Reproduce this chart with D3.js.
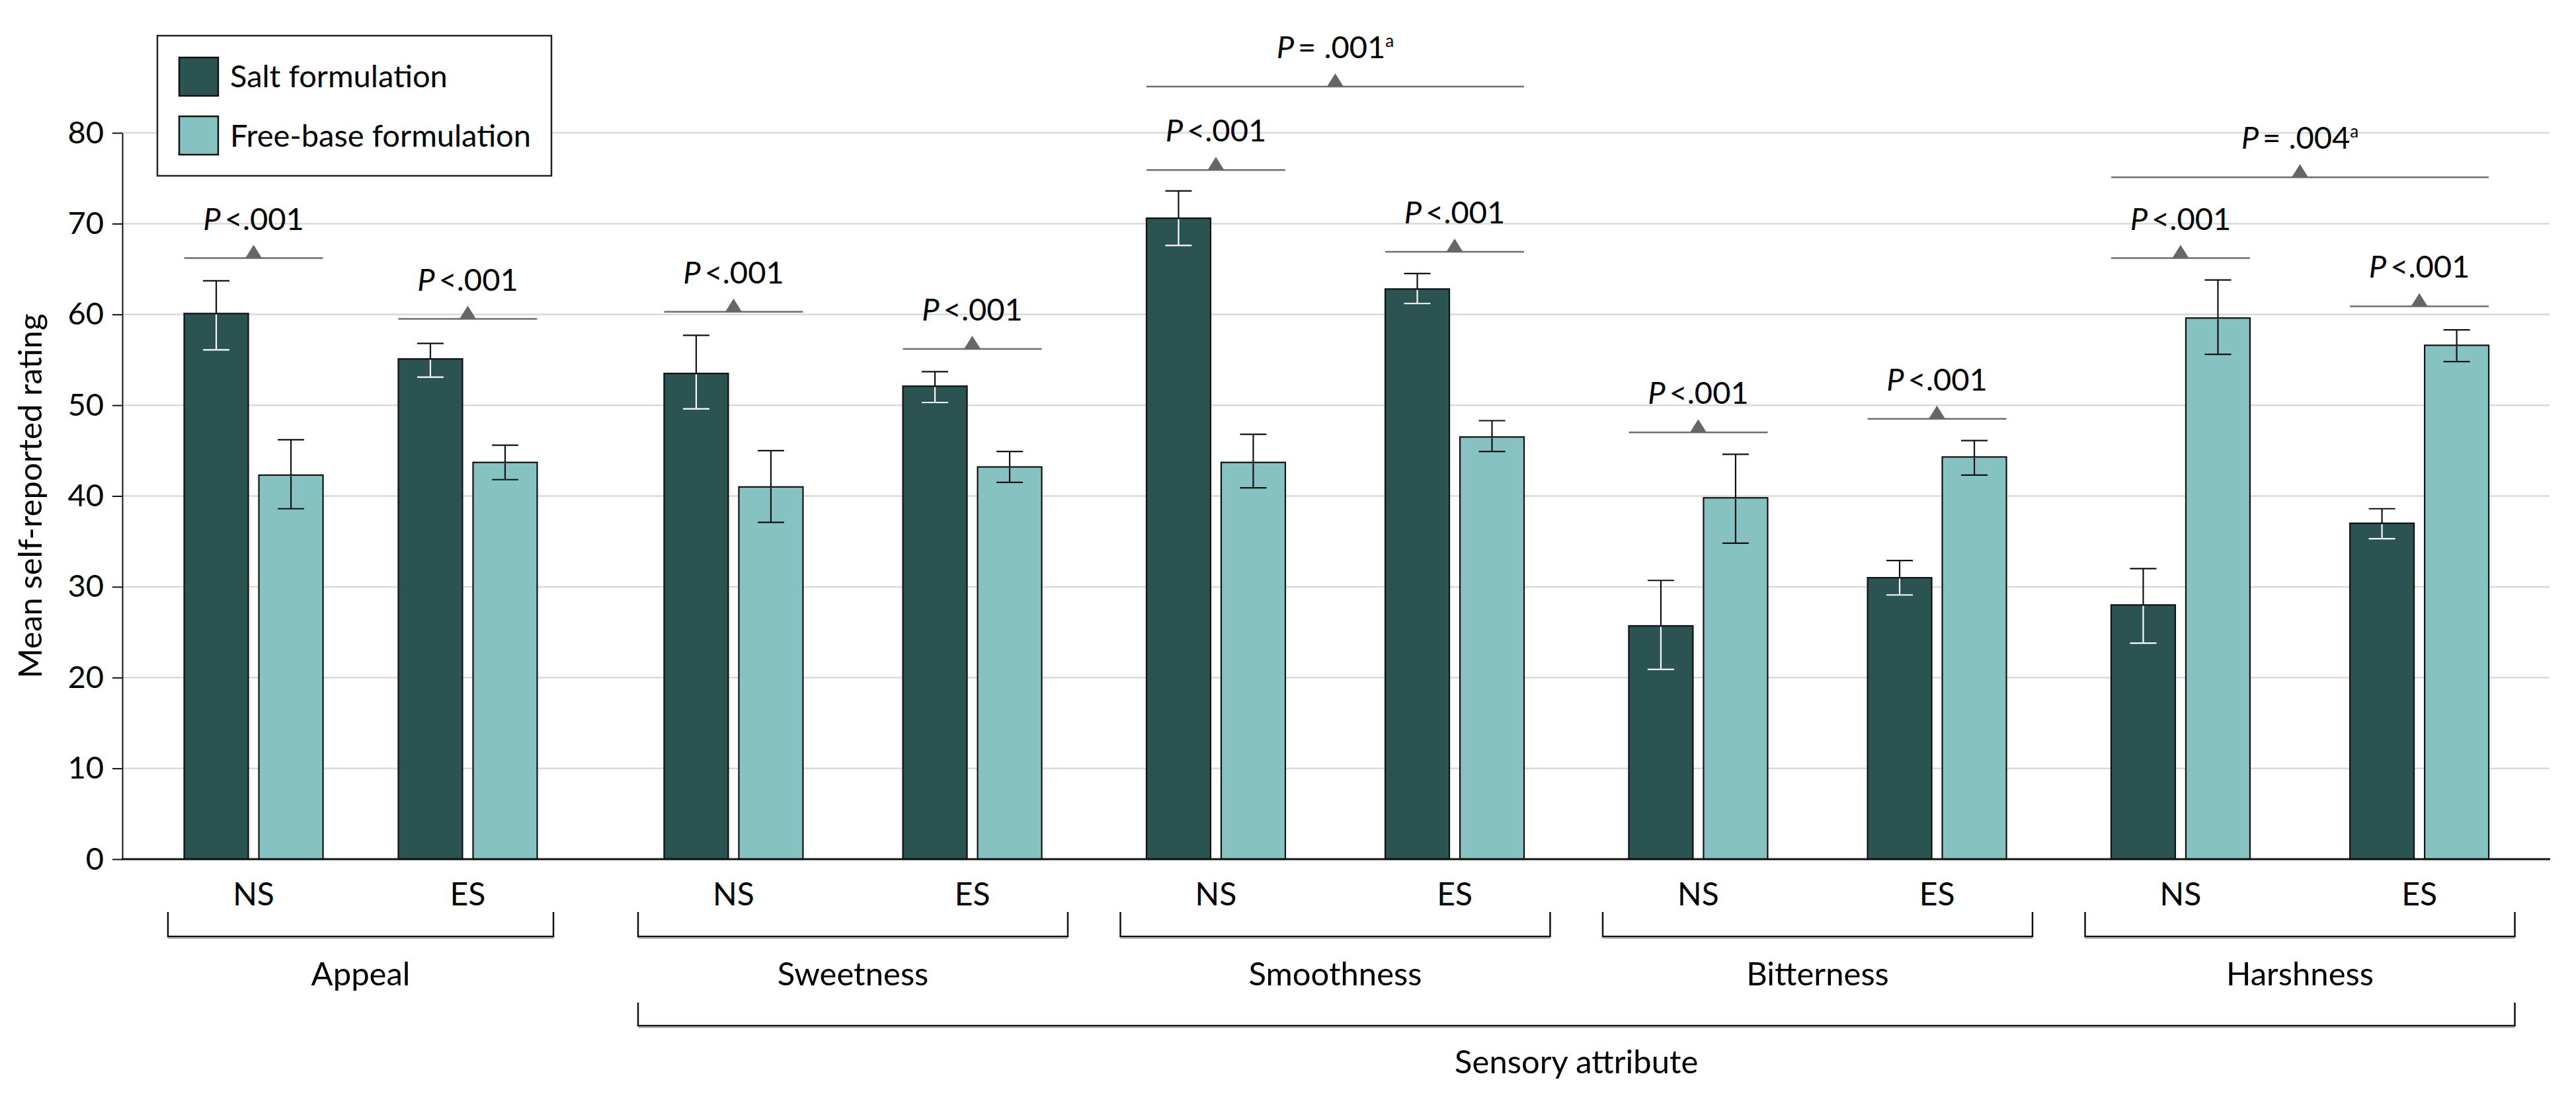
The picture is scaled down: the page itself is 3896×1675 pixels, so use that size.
<!DOCTYPE html>
<html>
<head>
<meta charset="utf-8">
<script src="https://cdn.jsdelivr.net/npm/d3@7/dist/d3.min.js"></script>
<style>
  html, body { margin: 0; padding: 0; background: #fff; }
  svg { display: block; font-family: Lato, "Open Sans", sans-serif; }
</style>
</head>
<body>
<svg id="chart" width="3896" height="1675"></svg>
<script>
// ---------------- DATA ----------------
const attributes = ["Appeal", "Sweetness", "Smoothness", "Bitterness", "Harshness"];
const settings = ["NS", "ES"];
const formulations = ["Salt formulation", "Free-base formulation"];
const yTicks = [0, 10, 20, 30, 40, 50, 60, 70, 80];

// order: Appeal NS, Appeal ES, Sweetness NS, Sweetness ES, ... Harshness ES
const saltMean = [60.1, 55.1, 53.5, 52.1, 70.6, 62.8, 25.7, 31.0, 28.0, 37.0];
const saltLow  = [56.1, 53.1, 49.6, 50.3, 67.6, 61.2, 20.9, 29.1, 23.8, 35.3];
const saltHigh = [63.7, 56.8, 57.7, 53.7, 73.6, 64.5, 30.7, 32.9, 32.0, 38.6];
const freeMean = [42.3, 43.7, 41.0, 43.2, 43.7, 46.5, 39.8, 44.3, 59.6, 56.6];
const freeLow  = [38.6, 41.8, 37.1, 41.5, 40.9, 44.9, 34.8, 42.3, 55.6, 54.8];
const freeHigh = [46.2, 45.6, 45.0, 44.9, 46.8, 48.3, 44.6, 46.1, 63.8, 58.3];

// pairwise comparisons (salt vs free-base within each attribute × setting)
const pairP     = ["<.001", "<.001", "<.001", "<.001", "<.001", "<.001", "<.001", "<.001", "<.001", "<.001"];
const pairLineY = [66.2, 59.5, 60.3, 56.2, 75.9, 66.9, 47.0, 48.5, 66.2, 60.9];

// NS vs ES comparisons across an attribute
const overallAttr  = ["Smoothness", "Harshness"];
const overallP     = ["= .001", "= .004"];
const overallNote  = ["a", "a"];
const overallLineY = [85.1, 75.1];

const yLabel = "Mean self-reported rating";
const xLabel = "Sensory attribute";

// ---------------- LAYOUT ----------------
const colors = { "Salt formulation": "#2a5352", "Free-base formulation": "#86c2c1" };
const svg = d3.select("#chart");
const plotLeft = 185, plotRight = 3857;

const y = d3.scaleLinear().domain([0, 80]).range([1300, 201]);

const attrX = d3.scaleBand().domain(attributes).range([235.5, 3803.5]).paddingInner(0.109);
function attrSpan(a) {
  const x0 = attrX(a);
  if (a === "Appeal") return [x0 + 18.5, x0 + 601.5];
  return [x0, x0 + attrX.bandwidth()];
}
function settingScale(a) {
  return d3.scalePoint().domain(settings).range(attrSpan(a)).padding(0.4);
}
const formX = d3.scaleBand().domain(formulations).range([-105, 105]).paddingInner(0.1416);

// build groups
const groups = [];
attributes.forEach((a, ai) => {
  settings.forEach((s, si) => {
    const i = ai * settings.length + si;
    groups.push({
      attr: a, setting: s, i,
      cx: settingScale(a)(s),
      bars: [
        { f: formulations[0], mean: saltMean[i], lo: saltLow[i], hi: saltHigh[i] },
        { f: formulations[1], mean: freeMean[i], lo: freeLow[i], hi: freeHigh[i] }
      ]
    });
  });
});

// ---------------- GRID ----------------
svg.append("g").selectAll("line")
  .data(yTicks.filter(d => d > 0))
  .join("line")
  .attr("x1", plotLeft).attr("x2", 3856)
  .attr("y1", d => y(d)).attr("y2", d => y(d))
  .attr("stroke", "#dadada").attr("stroke-width", 2.5);

// ---------------- LEGEND ----------------
const lg = svg.append("g");
lg.append("rect").attr("x", 238).attr("y", 54).attr("width", 596).attr("height", 212)
  .attr("fill", "#fff").attr("stroke", "#222").attr("stroke-width", 2.5);
formulations.forEach((f, k) => {
  lg.append("rect").attr("x", 271).attr("y", 87 + k * 89).attr("width", 59).attr("height", 58)
    .attr("fill", colors[f]).attr("stroke", "#111").attr("stroke-width", 2.5);
  lg.append("text").attr("x", 348).attr("y", 132 + k * 90)
    .attr("font-size", 47).attr("fill", "#000").text(f);
});

// ---------------- BARS ----------------
const gBars = svg.append("g");
groups.forEach(g => {
  g.bars.forEach((b, k) => {
    const x0 = g.cx + formX(b.f);
    const bw = formX.bandwidth();
    gBars.append("rect")
      .attr("x", x0).attr("y", y(b.mean))
      .attr("width", bw).attr("height", y(0) - y(b.mean))
      .attr("fill", colors[b.f]).attr("stroke", "#111").attr("stroke-width", 2.2);
    const xc = x0 + bw / 2;
    const inside = k === 0 ? "#ffffff" : "#111";
    gBars.append("line").attr("x1", xc).attr("x2", xc)
      .attr("y1", y(b.hi)).attr("y2", y(b.mean)).attr("stroke", "#111").attr("stroke-width", 2.2);
    gBars.append("line").attr("x1", xc - 20).attr("x2", xc + 20)
      .attr("y1", y(b.hi)).attr("y2", y(b.hi)).attr("stroke", "#111").attr("stroke-width", 2.2);
    gBars.append("line").attr("x1", xc).attr("x2", xc)
      .attr("y1", y(b.mean) + 1.5).attr("y2", y(b.lo)).attr("stroke", inside).attr("stroke-width", 2.2);
    gBars.append("line").attr("x1", xc - 20).attr("x2", xc + 20)
      .attr("y1", y(b.lo)).attr("y2", y(b.lo)).attr("stroke", inside).attr("stroke-width", 2.2);
  });
});

// ---------------- AXES ----------------
const yAxis = d3.axisLeft(y).tickValues(yTicks).tickSize(15).tickSizeOuter(0).tickPadding(13);
const ya = svg.append("g").attr("transform", `translate(${plotLeft},0)`).call(yAxis);
ya.select(".domain").attr("stroke", "#111").attr("stroke-width", 2);
ya.selectAll(".tick line").attr("stroke", "#111").attr("stroke-width", 2);
ya.selectAll(".tick text").attr("font-size", 47).attr("font-family", "Lato").attr("fill", "#000");

svg.append("line").attr("x1", plotLeft - 1).attr("x2", plotRight)
  .attr("y1", y(0)).attr("y2", y(0)).attr("stroke", "#111").attr("stroke-width", 3.2);

svg.append("text")
  .attr("transform", `translate(63,${(y(0) + y(80)) / 2}) rotate(-90)`)
  .attr("text-anchor", "middle").attr("font-size", 49).attr("fill", "#000").text(yLabel);

// ---------------- P-VALUE ANNOTATIONS ----------------
const gp = svg.append("g");
function pAnnotation(x1, x2, ly, label, note) {
  const cx = (x1 + x2) / 2;
  gp.append("line").attr("x1", x1).attr("x2", x2).attr("y1", ly).attr("y2", ly)
    .attr("stroke", "#6e6e6e").attr("stroke-width", 2.5);
  gp.append("path").attr("d", `M${cx - 12.5},${ly} L${cx},${ly - 20} L${cx + 12.5},${ly} Z`)
    .attr("fill", "#666");
  const t = gp.append("text").attr("x", cx).attr("y", ly - 43)
    .attr("text-anchor", "middle").attr("font-size", 47).attr("fill", "#000");
  t.append("tspan").attr("font-style", "italic").text("P");
  t.append("tspan").text("\u2009" + label);
  if (note) t.append("tspan").attr("font-size", 26).attr("dy", -17).text(note);
}
groups.forEach(g => {
  const x1 = g.cx + formX(formulations[0]);
  const x2 = g.cx + formX(formulations[1]) + formX.bandwidth();
  pAnnotation(x1, x2, y(pairLineY[g.i]), pairP[g.i]);
});
overallAttr.forEach((a, k) => {
  const sc = settingScale(a);
  const x1 = sc(settings[0]) + formX(formulations[0]);
  const x2 = sc(settings[1]) + formX(formulations[1]) + formX.bandwidth();
  pAnnotation(x1, x2, y(overallLineY[k]), overallP[k], overallNote[k]);
});

// ---------------- CATEGORY LABELS & BRACKETS ----------------
const gl = svg.append("g");
groups.forEach(g => {
  gl.append("text").attr("x", g.cx).attr("y", 1370).attr("text-anchor", "middle")
    .attr("font-size", 48).attr("fill", "#000").text(g.setting);
});
function bracket(x1, x2, yTop, yLine) {
  gl.append("path").attr("d", `M${x1},${yTop} V${yLine} H${x2} V${yTop}`)
    .attr("fill", "none").attr("stroke", "#111").attr("stroke-width", 2.5);
  gl.append("line").attr("x1", x1).attr("x2", x2).attr("y1", yLine + 2.5).attr("y2", yLine + 2.5)
    .attr("stroke", "#999").attr("stroke-width", 1.5);
}
attributes.forEach(a => {
  const [x1, x2] = attrSpan(a);
  bracket(x1, x2, 1380, 1417);
  gl.append("text").attr("x", (x1 + x2) / 2).attr("y", 1491).attr("text-anchor", "middle")
    .attr("font-size", 49).attr("fill", "#000").text(a);
});
const bigL = attrSpan(attributes[1])[0], bigR = attrSpan(attributes[attributes.length - 1])[1];
bracket(bigL, bigR, 1517, 1552);
gl.append("text").attr("x", (bigL + bigR) / 2).attr("y", 1624).attr("text-anchor", "middle")
  .attr("font-size", 49).attr("fill", "#000").text(xLabel);
</script>
</body>
</html>
